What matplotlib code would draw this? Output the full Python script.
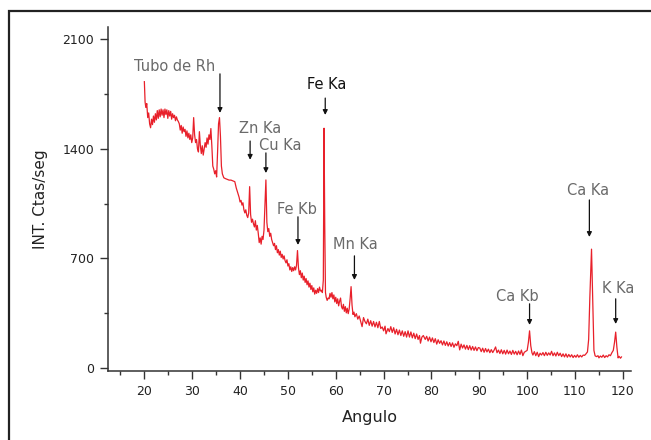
import matplotlib
matplotlib.use("Agg")
import matplotlib.pyplot as plt
from matplotlib.patches import Rectangle
from matplotlib.ticker import MultipleLocator

# ---- data (angle, counts) ----
seg_low_angle = [
    (20.0, 1830), (20.15, 1700), (20.3, 1665), (20.5, 1690), (20.7, 1600), (20.9, 1630),
    (21.1, 1560), (21.3, 1535), (21.5, 1590), (21.7, 1555), (21.9, 1610), (22.1, 1570),
    (22.3, 1625), (22.5, 1585), (22.7, 1645), (22.9, 1595), (23.1, 1650), (23.3, 1605),
    (23.5, 1655), (23.7, 1615), (23.9, 1650), (24.1, 1600), (24.3, 1655), (24.5, 1620),
    (24.7, 1650), (24.9, 1595), (25.1, 1645), (25.3, 1610), (25.5, 1640), (25.7, 1590),
    (25.9, 1625), (26.1, 1600), (26.3, 1615), (26.5, 1580), (26.7, 1605), (26.9, 1585),
    (27.1, 1575), (27.3, 1560), (27.5, 1520), (27.7, 1550), (27.9, 1500), (28.1, 1540),
    (28.3, 1510), (28.5, 1525), (28.7, 1480), (28.9, 1515), (29.1, 1470), (29.3, 1500),
    (29.5, 1460), (29.7, 1490), (29.9, 1440), (30.1, 1470), (30.3, 1600), (30.5, 1490),
    (30.7, 1440), (30.9, 1460), (31.1, 1400), (31.3, 1380), (31.5, 1510), (31.7, 1420),
    (31.9, 1370), (32.1, 1420), (32.3, 1360), (32.5, 1400), (32.7, 1440), (32.9, 1410),
    (33.1, 1470), (33.3, 1430), (33.5, 1490), (33.7, 1460), (33.9, 1530), (34.1, 1420),
    (34.3, 1290), (34.5, 1270), (34.7, 1240), (34.9, 1260), (35.1, 1220), (35.3, 1380),
    (35.5, 1560), (35.7, 1600), (35.9, 1480), (36.1, 1290), (36.3, 1240), (36.6, 1215),
]

seg_mid_angle = [
    (36.9, 1210), (37.3, 1205), (37.7, 1200), (38.1, 1200), (38.5, 1195), (38.9, 1190),
    (39.2, 1150), (39.5, 1120), (39.8, 1090), (40.0, 1060), (40.2, 1070), (40.4, 1040),
    (40.6, 1055), (40.8, 1010), (41.0, 990), (41.2, 1010), (41.4, 975), (41.6, 960),
    (41.8, 990), (42.0, 1158), (42.2, 980), (42.4, 930), (42.6, 950), (42.8, 920),
    (43.0, 900), (43.2, 940), (43.4, 880), (43.6, 910), (43.8, 860), (44.0, 800),
    (44.2, 830), (44.4, 790), (44.6, 840), (44.8, 820), (45.0, 880), (45.2, 1050),
    (45.4, 1201), (45.6, 930), (45.8, 870), (46.0, 890), (46.2, 840), (46.4, 860),
    (46.6, 820), (46.8, 800), (47.0, 780), (47.2, 795), (47.4, 755), (47.6, 780),
    (47.8, 735), (48.0, 755), (48.2, 720), (48.4, 745), (48.6, 705), (48.8, 725),
    (49.0, 695), (49.2, 715), (49.4, 685), (49.6, 670), (49.8, 690), (50.0, 650),
    (50.2, 665), (50.4, 625), (50.6, 645), (50.8, 615), (51.0, 640), (51.2, 620),
    (51.4, 645), (51.6, 625), (51.8, 655), (52.0, 749), (52.2, 640), (52.4, 595),
    (52.6, 620), (52.8, 575), (53.0, 605), (53.2, 560), (53.4, 585), (53.6, 545),
    (53.8, 570), (54.0, 530), (54.2, 555), (54.4, 515), (54.6, 540), (54.8, 500),
    (55.0, 525), (55.2, 485), (55.4, 510), (55.6, 470), (55.8, 495), (56.0, 475),
    (56.2, 505), (56.4, 480), (56.6, 515), (56.8, 490), (57.0, 495), (57.2, 480),
    (57.4, 560), (57.55, 1532), (57.7, 900), (57.85, 480), (58.0, 450), (58.2, 430),
    (58.4, 445),
]

seg_high_angle = [
    (58.6, 440), (58.8, 475), (59.0, 450), (59.2, 480), (59.4, 440), (59.6, 465),
    (59.8, 420), (60.0, 450), (60.2, 410), (60.4, 440), (60.6, 395), (60.8, 425),
    (61.0, 445), (61.2, 390), (61.4, 375), (61.6, 405), (61.8, 360), (62.0, 390),
    (62.2, 350), (62.4, 380), (62.6, 345), (62.8, 375), (63.0, 440), (63.2, 518),
    (63.4, 400), (63.6, 340), (63.8, 355), (64.0, 325), (64.3, 345), (64.6, 310),
    (64.9, 330), (65.2, 295), (65.5, 262), (65.8, 320), (66.1, 295), (66.4, 280),
    (66.7, 310), (67.0, 270), (67.3, 300), (67.6, 265), (67.9, 295), (68.2, 260),
    (68.5, 290), (68.8, 255), (69.1, 295), (69.4, 250), (69.7, 260), (70.0, 235),
    (70.3, 265), (70.5, 216), (70.9, 250), (71.2, 230), (71.5, 262), (71.8, 225),
    (72.1, 255), (72.4, 215), (72.7, 245), (73.0, 210), (73.3, 240), (73.6, 205),
    (73.9, 235), (74.2, 200), (74.5, 230), (74.8, 195), (75.1, 235), (75.4, 195),
    (75.7, 228), (76.0, 190), (76.3, 220), (76.6, 185), (76.9, 215), (77.2, 180),
    (77.5, 205), (77.7, 156), (78.0, 195), (78.3, 205), (78.7, 180), (79.0, 200),
    (79.3, 170), (79.6, 195), (79.9, 165), (80.2, 190), (80.5, 160), (80.8, 185),
    (81.1, 150), (81.4, 178), (81.7, 155), (82.0, 172), (82.3, 145), (82.6, 170),
    (82.9, 142), (83.2, 165), (83.5, 138), (83.8, 160), (84.1, 135), (84.4, 158),
    (84.7, 130), (85.0, 152), (85.3, 140), (85.6, 168), (85.9, 113), (86.2, 150),
    (86.5, 125), (86.8, 145), (87.1, 118), (87.4, 142), (87.7, 115), (88.0, 140),
    (88.3, 112), (88.6, 135), (88.9, 110), (89.2, 132), (89.5, 108), (89.8, 128),
]

seg_far_angle = [
    (90.1, 125), (90.4, 102), (90.7, 124), (91.0, 98), (91.3, 122), (91.6, 100),
    (91.9, 118), (92.2, 95), (92.5, 115), (92.8, 96), (93.1, 112), (93.4, 132),
    (93.7, 95), (94.0, 112), (94.3, 90), (94.6, 114), (94.9, 88), (95.2, 110),
    (95.5, 86), (95.8, 112), (96.1, 88), (96.4, 106), (96.7, 84), (97.0, 110),
    (97.3, 86), (97.6, 104), (97.9, 82), (98.2, 106), (98.5, 84), (98.8, 112),
    (99.1, 76), (99.4, 98), (99.7, 104), (100.0, 110), (100.25, 160), (100.5, 235),
    (100.75, 140), (101.0, 95), (101.2, 80), (101.5, 102), (101.8, 76), (102.1, 98),
    (102.4, 70), (102.7, 92), (103.0, 80), (103.3, 96), (103.6, 76), (103.9, 98),
    (104.2, 78), (104.5, 94), (104.8, 80), (105.1, 104), (105.4, 76), (105.7, 94),
    (106.0, 74), (106.3, 98), (106.6, 76), (106.9, 92), (107.2, 70), (107.5, 88),
    (107.8, 68), (108.1, 88), (108.4, 66), (108.7, 84), (109.0, 68), (109.3, 82),
    (109.6, 64), (109.9, 78), (110.2, 66), (110.5, 82), (110.8, 66), (111.1, 78),
    (111.4, 68), (111.7, 80), (112.0, 78), (112.3, 88), (112.6, 100), (112.85, 180),
    (113.1, 450), (113.45, 758), (113.7, 420), (113.95, 110), (114.2, 75), (114.5, 70),
    (114.8, 76), (115.0, 62), (115.3, 74), (115.6, 66), (115.9, 80), (116.2, 64),
    (116.5, 76), (116.8, 68), (117.1, 82), (117.4, 76), (117.7, 95), (118.0, 110),
    (118.25, 160), (118.5, 227), (118.75, 130), (119.0, 62), (119.2, 72), (119.5, 60),
    (119.7, 68),
]

# peak annotations: label, text x, text y, arrow x, arrow top, arrow bottom, text colour
peak_labels = ["Tubo de Rh", "Zn Ka", "Cu Ka", "Fe Ka", "Fe Kb", "Mn Ka", "Ca Kb", "Ca Ka", "K Ka"]
label_x = [26.4, 44.2, 48.5, 58.0, 51.8, 64.1, 97.9, 112.8, 119.0]
label_y = [1924, 1528, 1419, 1809, 1009, 785, 452, 1133, 504]
arrow_x = [35.8, 42.1, 45.4, 57.8, 52.1, 63.9, 100.5, 113.0, 118.5]
arrow_top = [1880, 1450, 1374, 1725, 965, 715, 408, 1073, 440]
arrow_bottom = [1630, 1330, 1245, 1617, 785, 561, 273, 836, 279]
label_colors = ["#6a6a6a", "#6a6a6a", "#6a6a6a", "#111111", "#6a6a6a",
                "#6a6a6a", "#6a6a6a", "#6a6a6a", "#6a6a6a"]

x_ticks = [20, 30, 40, 50, 60, 70, 80, 90, 100, 110, 120]
y_ticks = [0, 700, 1400, 2100]

# ---- build figure ----
plt.rcParams['font.family'] = ['DejaVu Sans']
fig = plt.figure(figsize=(6.51, 4.40), dpi=100)
ax = fig.add_axes([108 / 651, 1 - 371 / 440, (631 - 108) / 651, (371 - 27) / 440])

points = seg_low_angle + seg_mid_angle + seg_high_angle + seg_far_angle
angles = [p[0] for p in points]
counts = [p[1] for p in points]
ax.plot(angles, counts, color="#e8202a", lw=0.9)

ax.set_xlim(12.4, 121.7)
ax.set_ylim(-22, 2180)
ax.set_xticks(x_ticks)
ax.set_yticks(y_ticks)
ax.xaxis.set_minor_locator(MultipleLocator(5))
ax.yaxis.set_minor_locator(MultipleLocator(350))

for s in ["top", "right"]:
    ax.spines[s].set_visible(False)
for s in ["left", "bottom"]:
    ax.spines[s].set_color("#333333")
    ax.spines[s].set_linewidth(1.1)

ax.tick_params(which="major", direction="out", length=5.5, width=1.0, color="#333333",
               labelsize=9, labelcolor="#222222", pad=4.5)
ax.tick_params(which="minor", direction="out", length=3, width=1.0, color="#333333")

ax.set_xlabel("Angulo", fontsize=11.5, color="#222222", labelpad=9)
ax.set_ylabel("INT. Ctas/seg", fontsize=11, color="#222222", labelpad=10)

for lab, tx, ty, axx, at, ab, c in zip(peak_labels, label_x, label_y, arrow_x,
                                       arrow_top, arrow_bottom, label_colors):
    ax.text(tx, ty, lab, ha="center", va="center", fontsize=10.5, color=c)
    ax.annotate("", xy=(axx, ab), xytext=(axx, at),
                arrowprops=dict(arrowstyle="-|>", color="#111111", lw=0.9,
                                mutation_scale=7, shrinkA=0, shrinkB=0))

# outer frame (cut off at right and bottom as in the reference)
fig.add_artist(Rectangle((9 / 651, -0.2), 1.2, (1 - 11 / 440) + 0.2,
                         transform=fig.transFigure, fill=False,
                         edgecolor="#222222", lw=1.6))

fig.savefig("out.png", dpi=100)
